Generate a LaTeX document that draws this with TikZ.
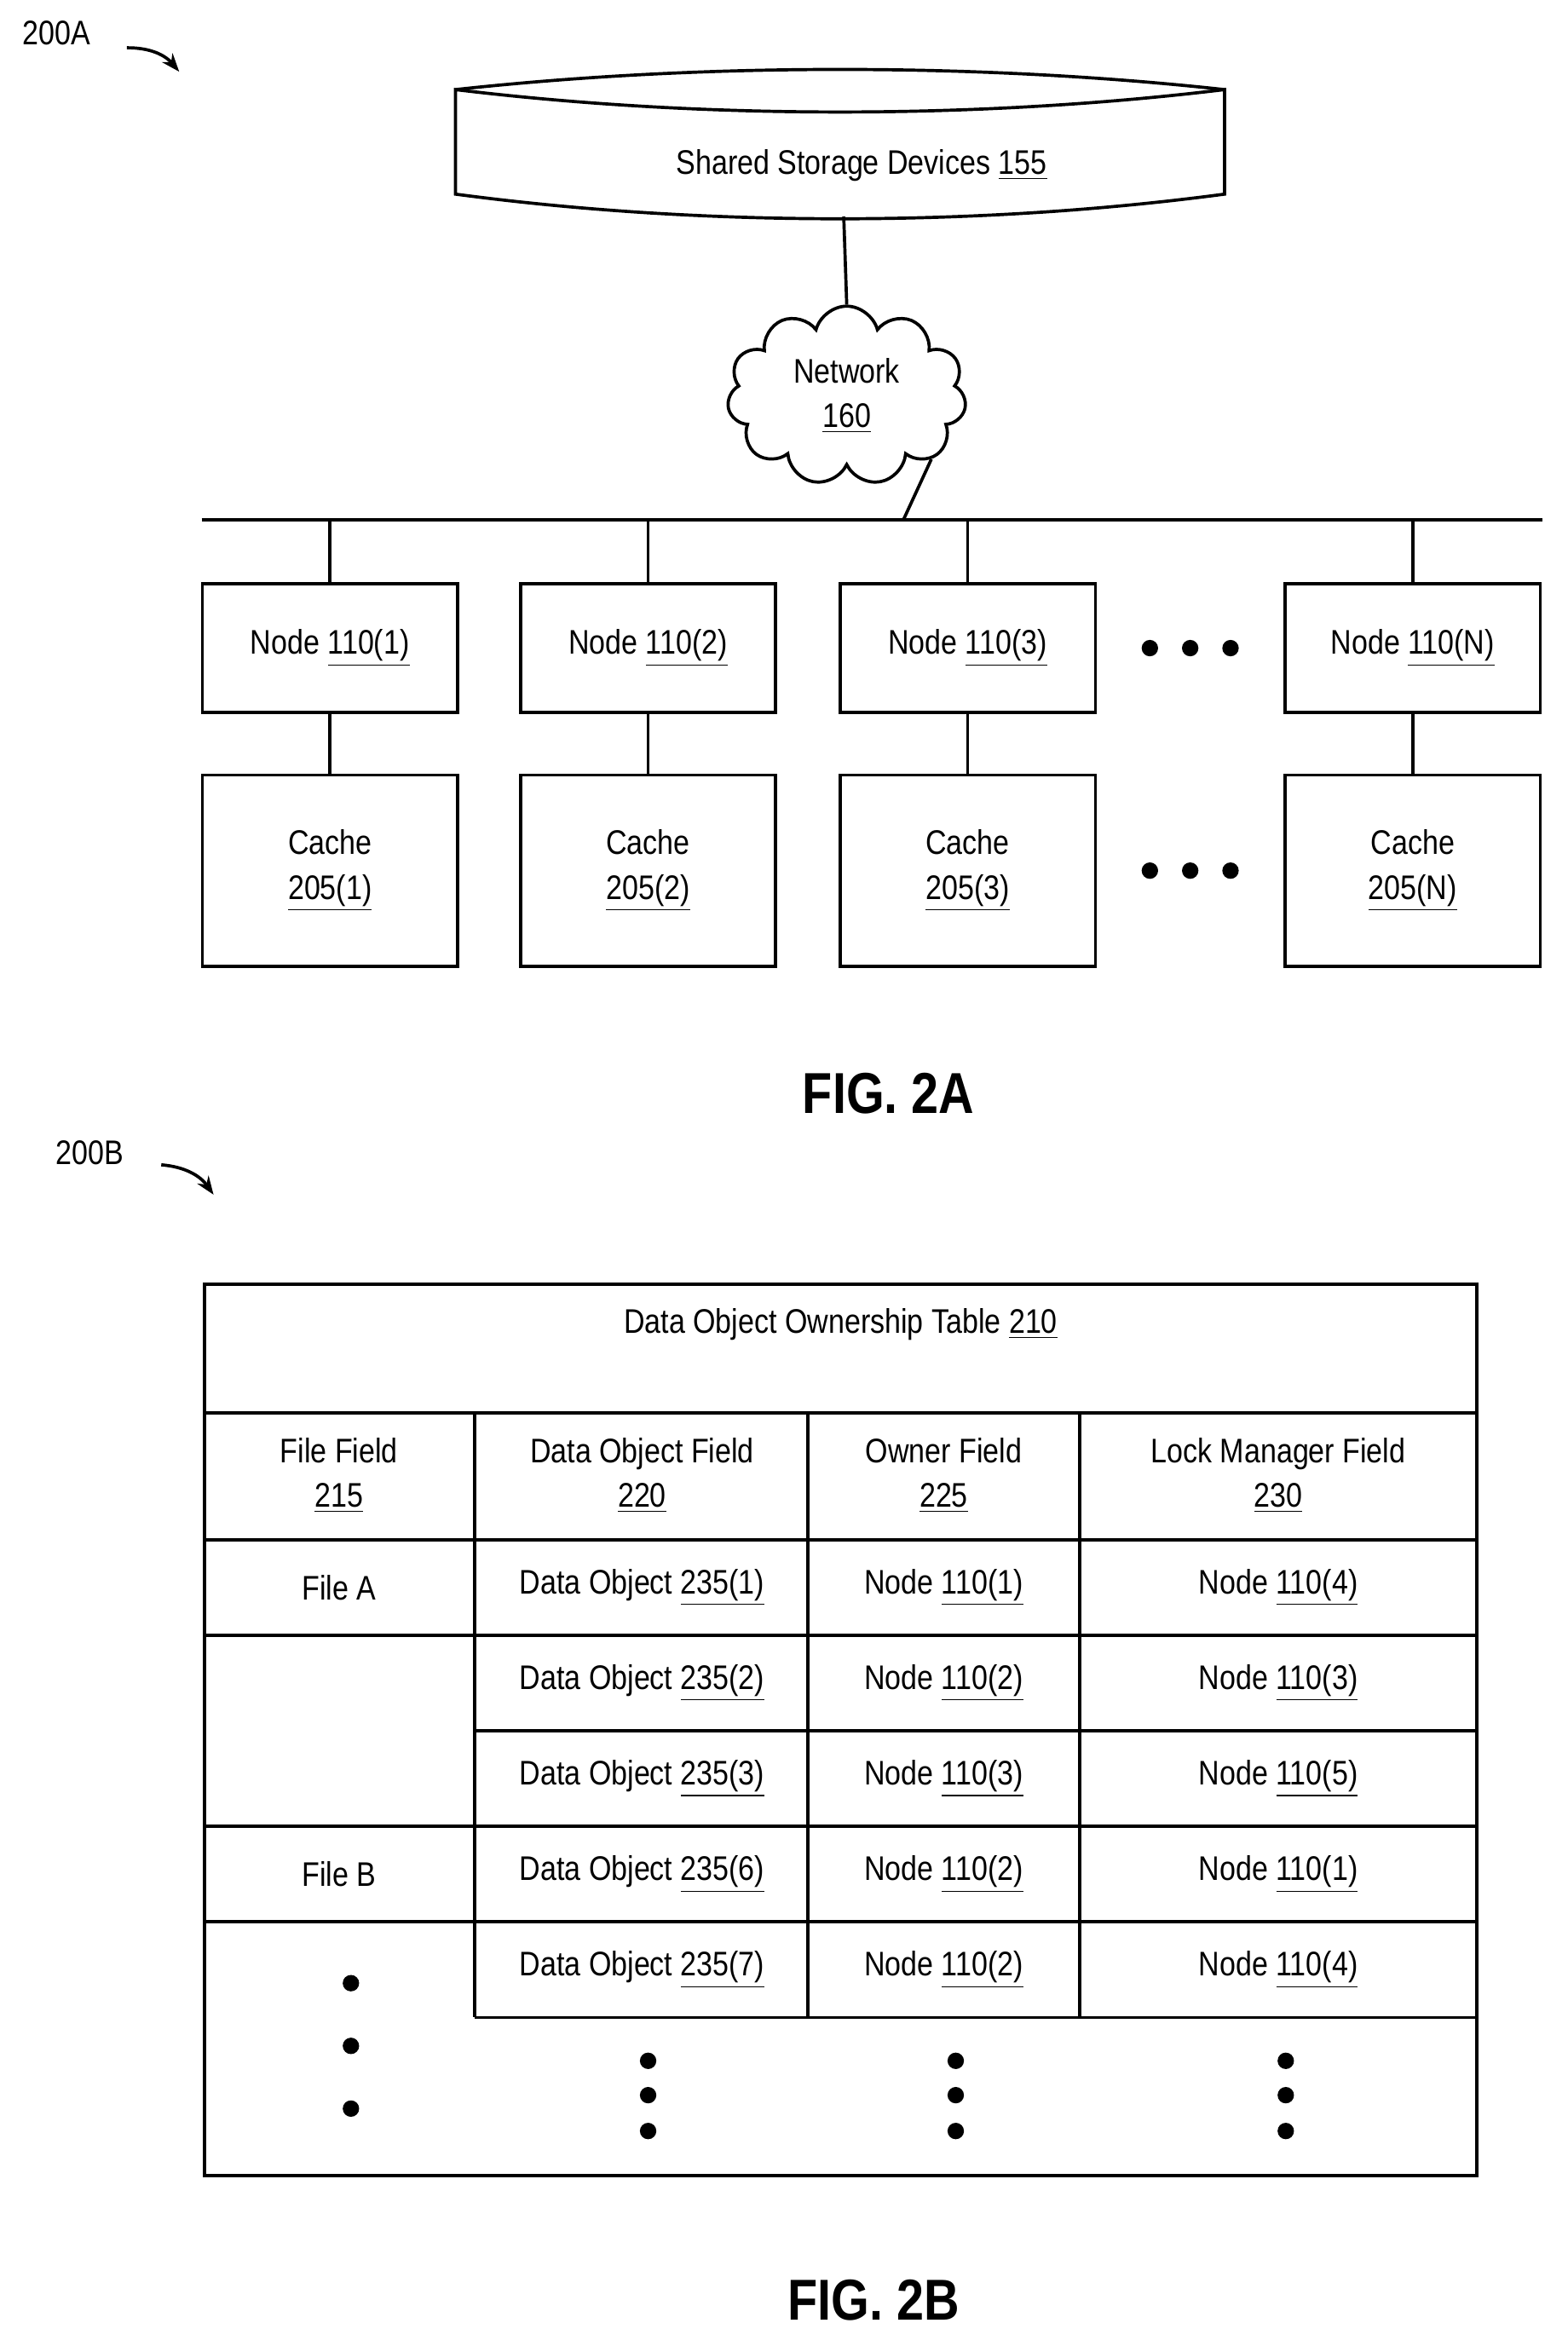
\documentclass[tikz,border=0pt]{standalone}
\usepackage{fontspec}
\setmainfont{Liberation Sans}[FakeStretch=0.85]
\usetikzlibrary{shapes.symbols, positioning, calc, arrows.meta}
\begin{document}
\begin{tikzpicture}[
    x=0.02cm, y=-0.02cm,
    box/.style={draw, line width=1.2pt, minimum width=3.42cm, align=center, font=\fontsize{13}{17}\selectfont},
    txt/.style={font=\fontsize{13}{17}\selectfont, align=center},
    line/.style={line width=1.2pt},
    dot/.style={circle, fill, inner sep=0pt, minimum size=0.22cm},
    fig/.style={font=\bfseries\fontsize{22}{26}\selectfont}
]
    \useasboundingbox (0,0) rectangle (1050,1575);
    % Label 200A
    \node[txt] (lblA) at (38,22) {200A};
    \draw[line, -{Stealth[length=7pt]}] (85,32) to[bend left=25] (120,48);

    % Shared storage cylinder
    \draw[line] (305,60) .. controls (470,80) and (655,80) .. (820,60)
        -- (820,130) .. controls (655,152) and (470,152) .. (305,130) -- cycle;
    \draw[line] (305,60) .. controls (470,42) and (655,42) .. (820,60);
    \node[txt] (storage) at (577,111) {Shared Storage Devices \underline{155}};

    % Network cloud
    \node[cloud, draw, line width=1.2pt, cloud puffs=11, aspect=1.4, minimum width=3.2cm, minimum height=2.4cm, txt] (net) at (567,265) {Network\\\underline{160}};
    \coordinate (stb) at (565,145);
    \draw[line] (stb) -- (net.north);
    \coordinate (bus0) at (135,348);
    \coordinate (bus1) at (1033,348);
    \coordinate (busN) at (605,348);
    \draw[line] (bus0) -- (bus1);
    \draw[line] (net.south east) -- (busN);

    % Nodes and caches
    \foreach \x/\i in {221/1, 434/2, 648/3, 946/N} {
        \node[box, minimum height=1.72cm] (node\i) at (\x,434) {Node \underline{110(\i)}};
        \node[box, minimum height=2.56cm] (cache\i) at (\x,583) {Cache\\\underline{205(\i)}};
        \coordinate (tap\i) at (\x,348);
        \draw[line] (tap\i) -- (node\i.north);
        \draw[line] (node\i) -- (cache\i);
    }
    \foreach \x in {770, 797, 824} {
        \node[dot] (d1\x) at (\x,434) {};
        \node[dot] (d2\x) at (\x,583) {};
    }
    \node[fig] (figA) at (595,732) {FIG. 2A};

    % Label 200B
    \node[txt] (lblB) at (60,772) {200B};
    \draw[line, -{Stealth[length=7pt]}] (108,780) to[bend left=25] (143,800);

    % Ownership table
    \draw[line] (137,860) rectangle (989,1457);
    \draw[line] (137,946) -- (989,946);
    \draw[line] (137,1031) -- (989,1031);
    \draw[line] (137,1095) -- (989,1095);
    \draw[line] (318,1159) -- (989,1159);
    \draw[line] (137,1223) -- (989,1223);
    \draw[line] (137,1287) -- (989,1287);
    \draw[line] (318,1351) -- (989,1351);
    \foreach \x in {318, 541, 723}
        \draw[line] (\x,946) -- (\x,1351);
    \node[txt] (title) at (563,887) {Data Object Ownership Table \underline{210}};
    \node[txt] (h1) at (227,988) {File Field\\\underline{215}};
    \node[txt] (h2) at (430,988) {Data Object Field\\\underline{220}};
    \node[txt] (h3) at (632,988) {Owner Field\\\underline{225}};
    \node[txt] (h4) at (856,988) {Lock Manager Field\\\underline{230}};
    \node[txt] (fa) at (227,1063) {File A};
    \node[txt] (fb) at (227,1255) {File B};
    \foreach \y/\d/\o/\l in {1063/1/1/4, 1127/2/2/3, 1191/3/3/5, 1255/6/2/1, 1319/7/2/4} {
        \node[txt] (do\d) at (430,\y) {Data Object \underline{235(\d)}};
        \node[txt] (ow\d) at (632,\y) {Node \underline{110(\o)}};
        \node[txt] (lm\d) at (856,\y) {Node \underline{110(\l)}};
    }
    \foreach \y in {1328, 1370, 1412}
        \node[dot] (dc\y) at (235,\y) {};
    \foreach \x in {434, 640, 861}
        \foreach \y in {1380, 1403, 1427}
            \node[dot] (dt\x\y) at (\x,\y) {};
    \node[fig] (figB) at (585,1540) {FIG. 2B};
\end{tikzpicture}
\end{document}
